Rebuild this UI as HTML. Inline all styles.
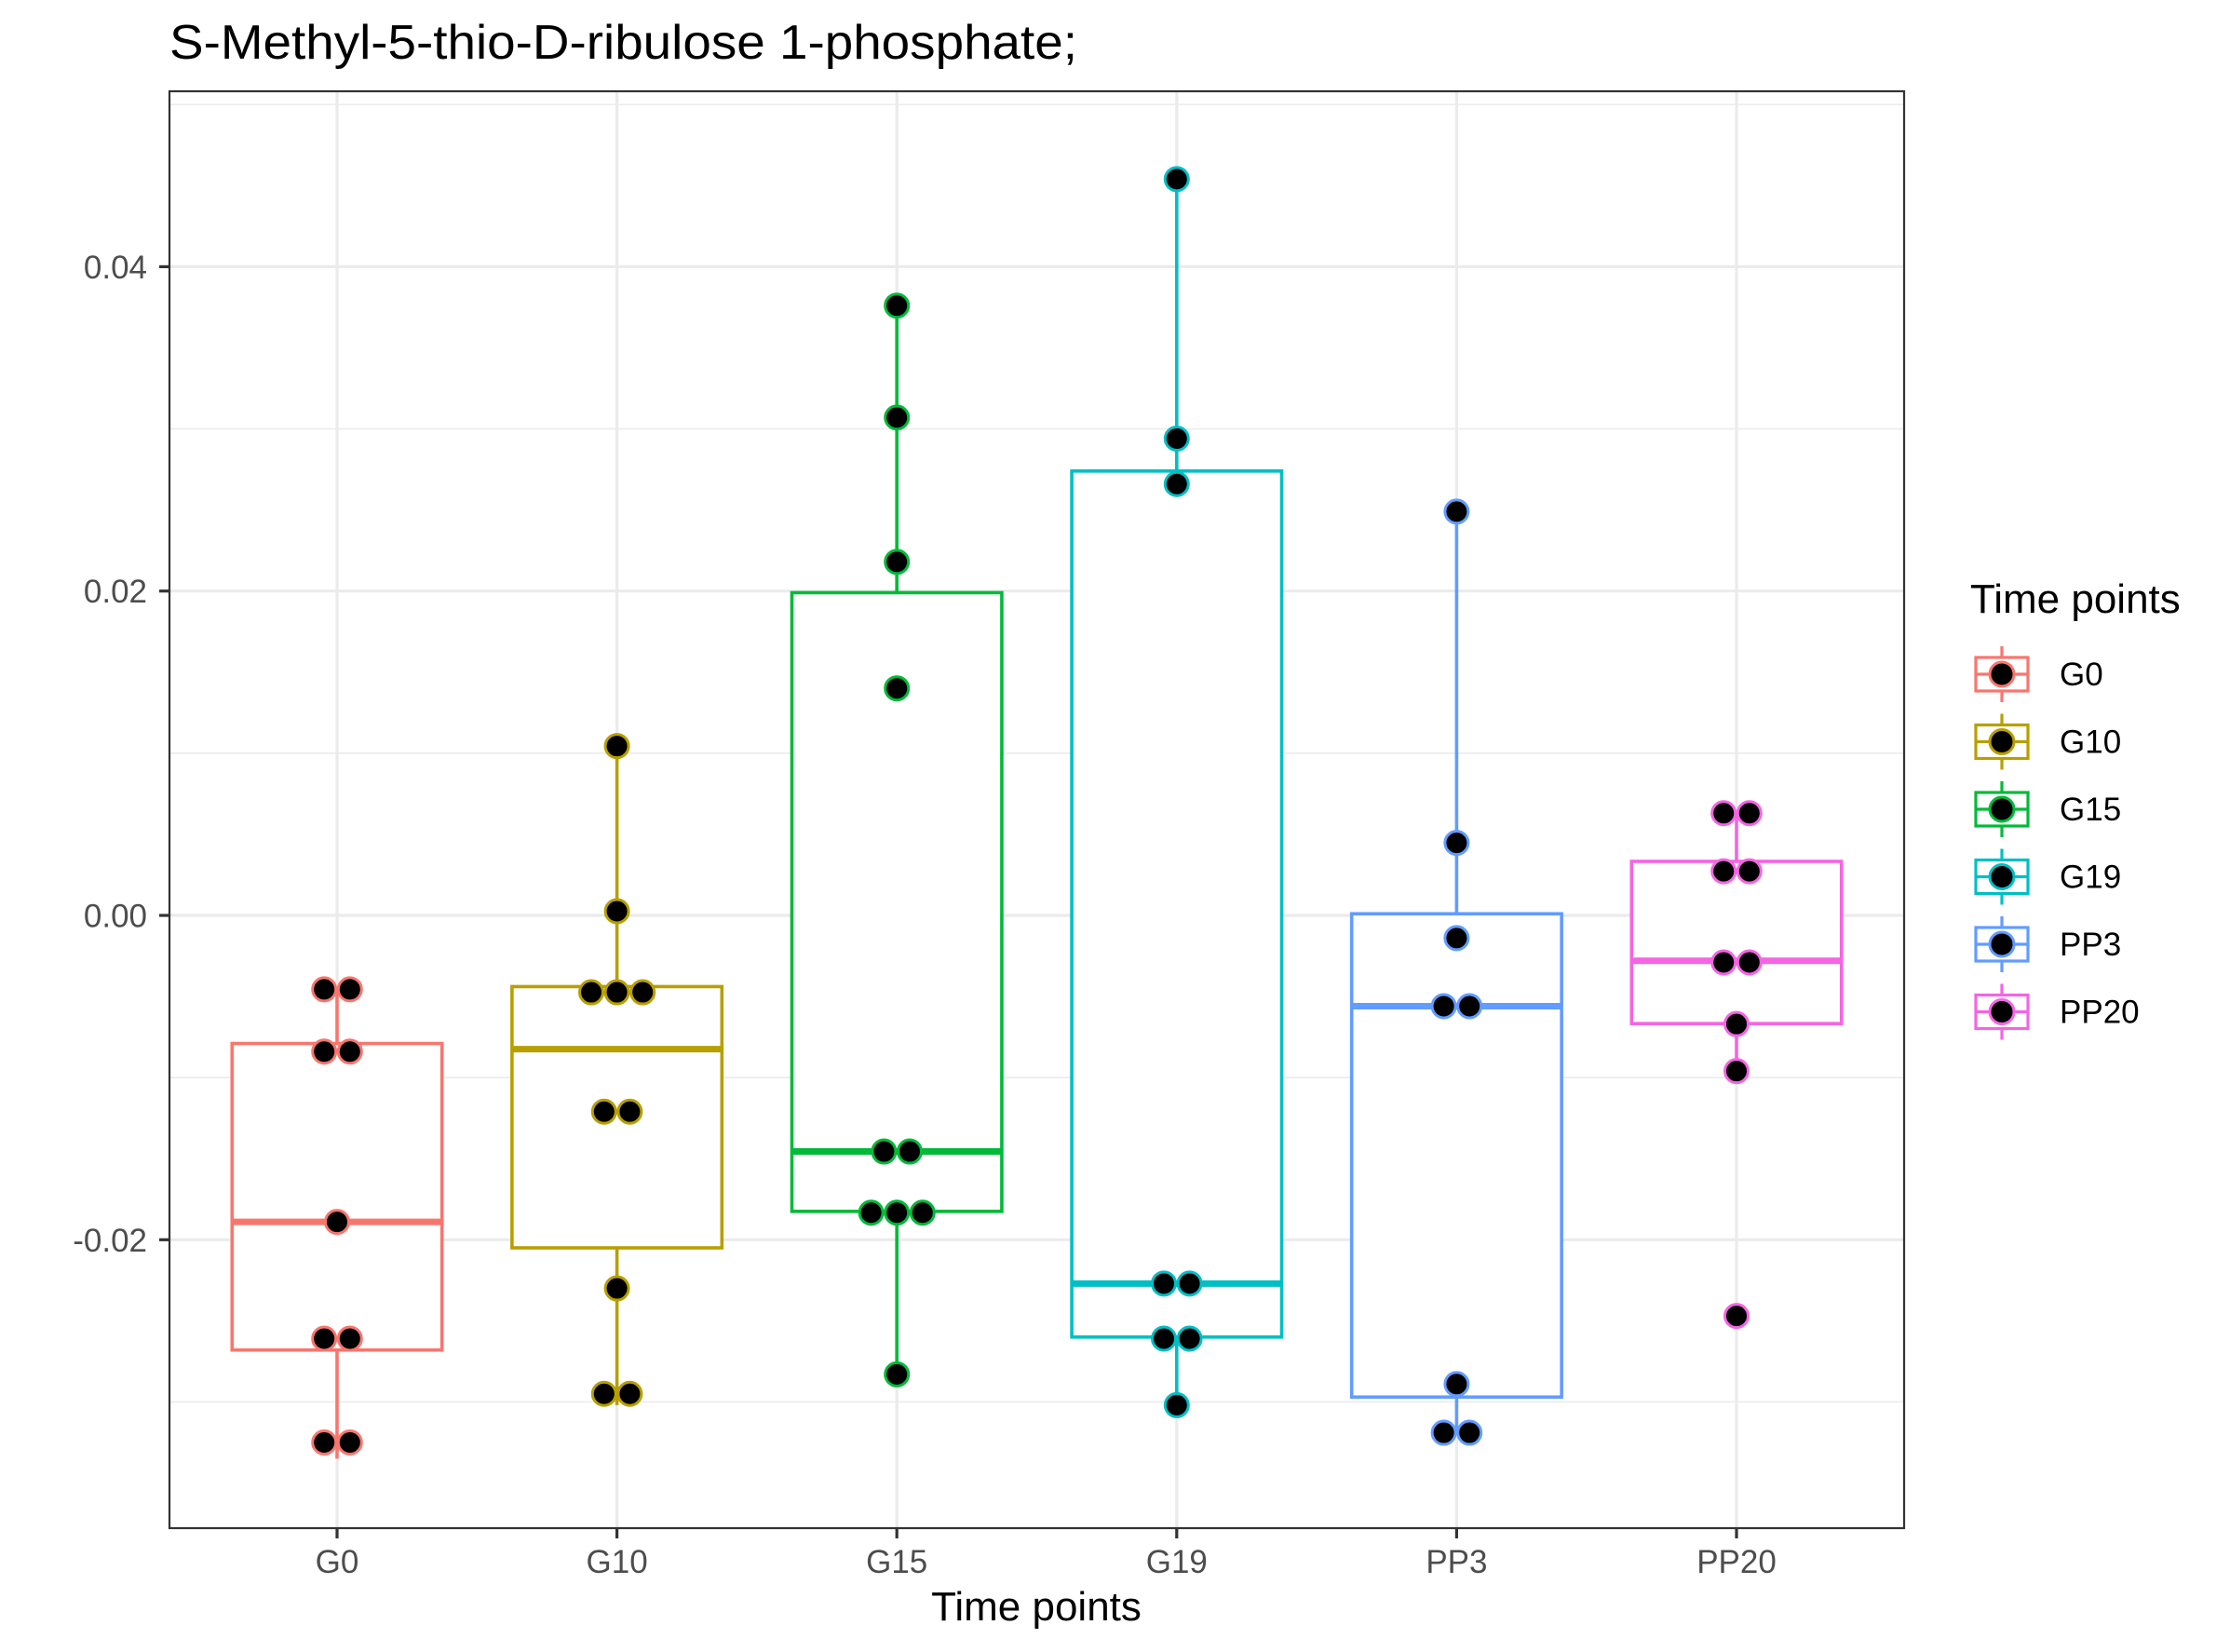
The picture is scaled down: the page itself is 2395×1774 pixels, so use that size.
<!DOCTYPE html>
<html><head><meta charset="utf-8"><style>
html,body{margin:0;padding:0;background:#fff;}
svg{display:block;font-family:"Liberation Sans",Arial,sans-serif;}
</style></head><body>
<svg id="chart" width="2395" height="1774" viewBox="0 0 2395 1774" xmlns="http://www.w3.org/2000/svg">
<text x="182" y="63" font-size="52" fill="#000" textLength="975" lengthAdjust="spacingAndGlyphs">S-Methyl-5-thio-D-ribulose 1-phosphate;</text>
<rect x="182" y="98" width="1863" height="1543" fill="#fff"/>
<g id="grid"></g>
<g id="marks"></g>
<rect x="182" y="98" width="1863" height="1543" fill="none" stroke="#333" stroke-width="2.2"/>
<g id="axes"></g>
<text x="1113" y="1740" font-size="44" text-anchor="middle" fill="#000">Time points</text>
<g id="legend"></g>
</svg>
<script>
const categories = ["G0","G10","G15","G19","PP3","PP20"];
const colors = ["#F8766D","#B79F00","#00BA38","#00BFC4","#619CFF","#F564E3"];
const whiskerLow = [-0.0335,-0.0302,-0.0283,-0.0302,-0.0319,-0.0096];
const q1 = [-0.0268,-0.0205,-0.01825,-0.0260,-0.0297,-0.00667];
const median = [-0.0189,-0.00825,-0.01456,-0.0227,-0.0056,-0.0028];
const q3 = [-0.0079,-0.00439,0.0199,0.0274,0.0001,0.00333];
const whiskerHigh = [-0.00456,0.01044,0.0376,0.0454,0.0249,0.0063];
const pointGroup = [0,0,0,0,0,0,0,0,0, 1,1,1,1,1,1,1,1,1,1, 2,2,2,2,2,2,2,2,2,2, 3,3,3,3,3,3,3,3, 4,4,4,4,4,4,4,4, 5,5,5,5,5,5,5,5,5,5];
const pointValue = [-0.00456,-0.00456,-0.0084,-0.0084,-0.0189,-0.0261,-0.0261,-0.0325,-0.0325,
 0.01044,0.00026,-0.00474,-0.00474,-0.00474,-0.0121,-0.0121,-0.0230,-0.0295,-0.0295,
 0.0376,0.0307,0.0218,0.0140,-0.01456,-0.01456,-0.01833,-0.01833,-0.01833,-0.0283,
 0.0454,0.0294,0.0266,-0.0227,-0.0227,-0.0261,-0.0261,-0.0302,
 0.0249,0.00447,-0.0014,-0.0056,-0.0056,-0.0289,-0.0319,-0.0319,
 0.0063,0.0063,0.00272,0.00272,-0.0029,-0.0029,-0.0067,-0.0096,-0.0247];
const pointJitter = [-1,1,-1,1,0,-1,1,-1,1, 0,0,-2,0,2,-1,1,0,-1,1, 0,0,0,0,-1,1,-2,0,2,0, 0,0,0,-1,1,-1,1,0, 0,0,0,-1,1,0,-1,1, -1,1,-1,1,-1,1,0,0,0];
const majorTicks = [-0.02,0.00,0.02,0.04];
const majorLabels = ["-0.02","0.00","0.02","0.04"];
const minorTicks = [-0.03,-0.01,0.01,0.03,0.05];

const NS="http://www.w3.org/2000/svg";
const PL=182,PR=2045,PT=98,PB=1641;
const x0=362, step=300.6;
function xs(i){return x0+i*step;}
function ys(v){return 983 - v/0.02*348.3;}
function mk(tag,attrs,parent){const e=document.createElementNS(NS,tag);for(const k in attrs)e.setAttribute(k,attrs[k]);parent.appendChild(e);return e;}
const grid=document.getElementById('grid'),marks=document.getElementById('marks'),axes=document.getElementById('axes'),legend=document.getElementById('legend');

minorTicks.forEach(v=>{const y=ys(v);if(y<PT||y>PB)return;
 const l=mk('line',{x1:PL,x2:PR,y1:y,y2:y,stroke:'#ebebeb','stroke-width':1.6},grid);
 
 });
majorTicks.forEach((v,i)=>{const y=ys(v);
 const l=mk('line',{x1:PL,x2:PR,y1:y,y2:y,stroke:'#ebebeb','stroke-width':3.2},grid);
 
 
 const t=mk('line',{x1:PL-11,x2:PL,y1:y,y2:y,stroke:'#333','stroke-width':3.2},axes);
 
 
 const tx=mk('text',{x:PL-24,y:y+12.5,'font-size':35,'text-anchor':'end',fill:'#4d4d4d'},axes);
 tx.textContent=majorLabels[i];
 
 });
categories.forEach((c,i)=>{const x=xs(i);
 const l=mk('line',{x1:x,x2:x,y1:PT,y2:PB,stroke:'#ebebeb','stroke-width':3.2},grid);
 
 
 const t=mk('line',{x1:x,x2:x,y1:PB,y2:PB+11,stroke:'#333','stroke-width':3.2},axes);
 
 
 const tx=mk('text',{x:x,y:1689,'font-size':35,'text-anchor':'middle',fill:'#4d4d4d'},axes);
 tx.textContent=c;
 
 });

const hw=0.375*step;
categories.forEach((c,i)=>{const x=xs(i),col=colors[i];
 const g=mk('g',{},marks);
 
 
 mk('line',{x1:x,x2:x,y1:ys(whiskerHigh[i]),y2:ys(q3[i]),stroke:col,'stroke-width':3.6},g);
 mk('line',{x1:x,x2:x,y1:ys(q1[i]),y2:ys(whiskerLow[i]),stroke:col,'stroke-width':3.6},g);
 mk('rect',{x:x-hw,y:ys(q3[i]),width:2*hw,height:ys(q1[i])-ys(q3[i]),fill:'#fff',stroke:col,'stroke-width':3.6},g);
 mk('line',{x1:x-hw,x2:x+hw,y1:ys(median[i]),y2:ys(median[i]),stroke:col,'stroke-width':7},g);
});
pointValue.forEach((v,k)=>{const gi=pointGroup[k];
 const p=mk('circle',{cx:xs(gi)+pointJitter[k]*13.8,cy:ys(v),r:12.5,fill:'#000',stroke:colors[gi],'stroke-width':3},marks);
 
 });

const lt=mk('text',{x:2116,y:658,'font-size':44,fill:'#000'},legend);
lt.textContent='Time points';


categories.forEach((c,i)=>{const cy=724+i*72.5,cx=2150,col=colors[i];
 const g=mk('g',{},legend);
 
 
 mk('line',{x1:cx,x2:cx,y1:cy-30,y2:cy+30,stroke:col,'stroke-width':3.2},g);
 mk('rect',{x:cx-28,y:cy-18,width:56,height:36,fill:'#fff',stroke:col,'stroke-width':3.2},g);
 mk('line',{x1:cx-28,x2:cx+28,y1:cy,y2:cy,stroke:col,'stroke-width':3.2},g);
 mk('circle',{cx:cx,cy:cy,r:13,fill:'#000',stroke:col,'stroke-width':3},g);
 const t=mk('text',{x:2212,y:cy+12,'font-size':35,fill:'#000'},g);
 t.textContent=c;});
</script>
</body></html>
